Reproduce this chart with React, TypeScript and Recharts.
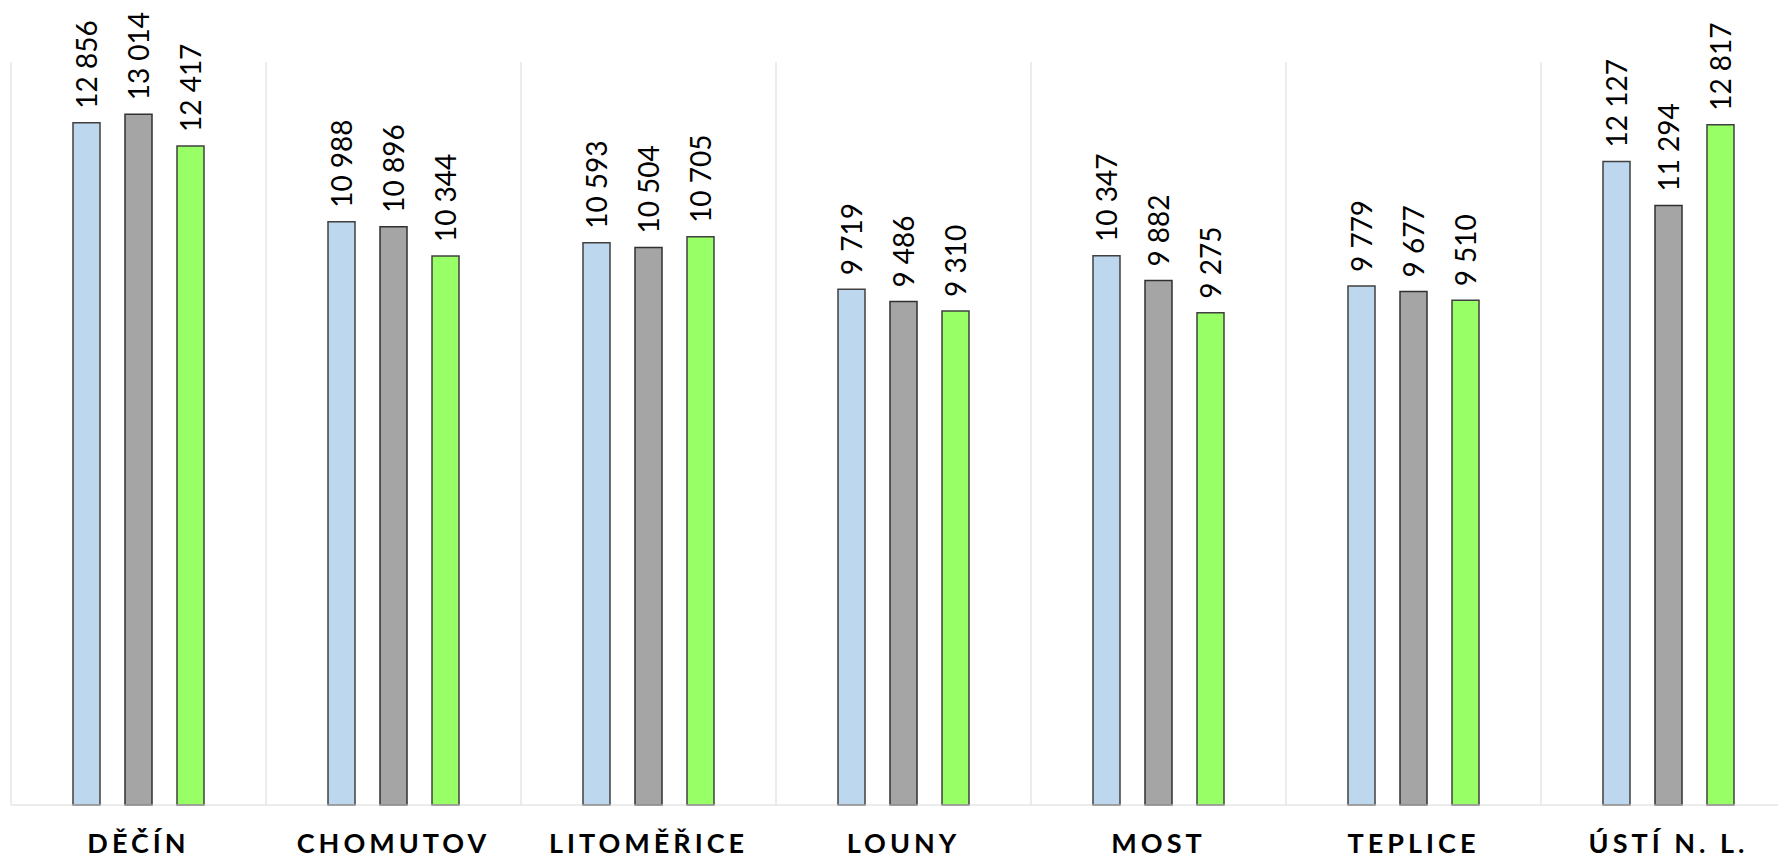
import React from "react";
import { Bar, BarChart, CartesianGrid, LabelList, XAxis, YAxis } from "recharts";

const districts = ["DĚČÍN", "CHOMUTOV", "LITOMĚŘICE", "LOUNY", "MOST", "TEPLICE", "ÚSTÍ N. L."];
const seriesA = [12856, 10988, 10593, 9719, 10347, 9779, 12127];
const seriesB = [13014, 10896, 10504, 9486, 9882, 9677, 11294];
const seriesC = [12417, 10344, 10705, 9310, 9275, 9510, 12817];

const data = districts.map((name, i) => ({ name, a: seriesA[i], b: seriesB[i], c: seriesC[i] }));

const fmt = (v: number) => String(v).replace(/\B(?=(\d{3})+(?!\d))/g, " ");

function ValueLabel(props: any) {
  const { x, y, width, value } = props;
  const cx = x + width / 2;
  const ty = y - 14;
  return (
    <text
      x={cx}
      y={ty}
      transform={`rotate(-90 ${cx} ${ty})`}
      textAnchor="start"
      dominantBaseline="central"
      fontFamily="Lato, 'Open Sans', sans-serif"
      fontSize={28}
      fill="#000"
    >
      {fmt(value)}
    </text>
  );
}

function DistrictTick(props: any) {
  const { x, y, payload } = props;
  return (
    <text
      x={x}
      y={y + 40}
      textAnchor="middle"
      fontFamily="Lato, 'Open Sans', sans-serif"
      fontWeight={700}
      fontSize={27}
      letterSpacing={4}
      fill="#000"
    >
      {payload.value}
    </text>
  );
}

export default function App() {
  return (
    <div style={{ position: "absolute", left: 0, top: 0, width: 1778, height: 862, overflow: "hidden", background: "#fff" }}>
      <BarChart
        width={1800}
        height={862}
        data={data}
        margin={{ top: 62, right: 4, bottom: 0, left: 11 }}
        barGap={25}
        barSize={27}
      >
        <CartesianGrid
          horizontal={false}
          stroke="#d9d9d9"
          verticalCoordinatesGenerator={({ offset }: any) =>
            districts.map((_, i) => offset.left + (i * offset.width) / districts.length)
          }
        />
        <XAxis dataKey="name" stroke="#d9d9d9" tickLine={false} height={57} tick={<DistrictTick />} interval={0} />
        <YAxis hide domain={[0, 14000]} />
        <Bar dataKey="a" fill="#bdd7ee" stroke="#404040" strokeWidth={1.5} isAnimationActive={false}>
          <LabelList dataKey="a" content={<ValueLabel />} />
        </Bar>
        <Bar dataKey="b" fill="#a5a5a5" stroke="#303030" strokeWidth={1.5} isAnimationActive={false}>
          <LabelList dataKey="b" content={<ValueLabel />} />
        </Bar>
        <Bar dataKey="c" fill="#99ff66" stroke="#404040" strokeWidth={1.5} isAnimationActive={false}>
          <LabelList dataKey="c" content={<ValueLabel />} />
        </Bar>
      </BarChart>
    </div>
  );
}
